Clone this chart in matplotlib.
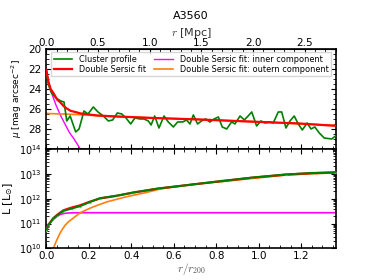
import matplotlib
matplotlib.use("Agg")
import matplotlib.pyplot as plt
from matplotlib.ticker import MultipleLocator, LogLocator

plt.rcParams['font.size'] = 7.5

r200 = 2.055  # Mpc

# surface brightness profile (top panel)
r_prof = [0.0, 0.01, 0.024, 0.045, 0.068, 0.083, 0.096, 0.112, 0.138, 0.154, 0.177, 0.196,
          0.221, 0.243, 0.268, 0.292, 0.312, 0.334, 0.355, 0.375, 0.397, 0.417, 0.441,
          0.46, 0.48, 0.493, 0.51, 0.53, 0.554, 0.574, 0.598, 0.618, 0.642, 0.66, 0.676,
          0.692, 0.712, 0.73, 0.75, 0.77, 0.79, 0.81, 0.828, 0.849, 0.872, 0.888, 0.912,
          0.932, 0.95, 0.967, 0.99, 1.01, 1.029, 1.053, 1.068, 1.092, 1.108, 1.128, 1.147,
          1.167, 1.186, 1.205, 1.228, 1.246, 1.264, 1.285, 1.308, 1.343, 1.362]
mu_prof = [22.2, 23.6, 24.4, 24.9, 25.2, 25.3, 27.2, 26.7, 28.3, 28.0, 26.2, 26.5,
           25.8, 26.3, 26.7, 27.2, 27.1, 26.4, 26.5, 26.9, 27.5, 26.9, 27.0,
           27.0, 27.2, 27.6, 26.7, 27.9, 26.7, 27.3, 27.8, 27.3, 27.3, 27.1, 27.5,
           26.6, 27.5, 27.2, 27.0, 27.3, 27.0, 26.8, 27.8, 28.0, 27.3, 27.5, 26.7,
           27.1, 26.7, 26.3, 27.7, 27.2, 27.4, 27.3, 27.4, 26.3, 26.3, 27.9, 27.2,
           26.7, 27.5, 28.1, 27.4, 28.0, 27.8, 28.4, 28.9, 29.0, 28.7]

r_fit = [0.0, 0.01, 0.02, 0.033, 0.052, 0.064, 0.083, 0.096, 0.115, 0.127, 0.162, 0.2,
         0.24, 0.3, 0.5, 0.72, 0.95, 1.19, 1.37]
mu_fit = [22.1, 23.3, 24.0, 24.4, 25.1, 25.3, 25.75, 25.95, 26.2, 26.25, 26.45, 26.55,
          26.65, 26.72, 26.9, 27.05, 27.25, 27.45, 27.7]

r_inner = [0.0, 0.01, 0.02, 0.028, 0.045, 0.068, 0.085, 0.107, 0.13, 0.154, 0.165, 0.18]
mu_inner = [22.2, 23.3, 24.1, 24.6, 25.6, 26.7, 27.4, 28.3, 29.0, 29.8, 30.2, 30.6]

r_outer = [0.0, 0.1, 0.2, 0.27, 0.4, 0.72, 1.0, 1.37]
mu_outer = [26.45, 26.52, 26.62, 26.72, 26.82, 27.05, 27.3, 27.65]

# cumulative luminosity (bottom panel)
r_lum = [0.0, 0.01, 0.033, 0.05, 0.08, 0.12, 0.159, 0.206, 0.253, 0.331, 0.41, 0.527,
         0.65, 0.82, 0.97, 1.13, 1.25, 1.36]
L_prof = [5.4e10, 8.9e10, 1.6e11, 2.1e11, 3.2e11, 4.0e11, 5.0e11, 7.4e11, 1.05e12,
          1.32e12, 1.78e12, 2.57e12, 3.4e12, 5.1e12, 7.1e12, 9.5e12, 1.08e13, 1.15e13]
L_fit = [5.4e10, 9.0e10, 1.65e11, 2.2e11, 3.4e11, 4.4e11, 5.4e11, 7.6e11, 1.02e12,
         1.3e12, 1.76e12, 2.55e12, 3.4e12, 5.0e12, 7.0e12, 9.3e12, 1.06e13, 1.13e13]

r_lin = [0.0, 0.01, 0.028, 0.049, 0.065, 0.08, 0.1, 0.13, 0.2, 0.5, 1.0, 1.37]
L_inner = [5.4e10, 8.5e10, 1.35e11, 1.9e11, 2.3e11, 2.5e11, 2.65e11, 2.7e11, 2.72e11,
           2.72e11, 2.72e11, 2.72e11]

r_lout = [0.033, 0.045, 0.056, 0.07, 0.088, 0.105, 0.127, 0.159, 0.19, 0.221, 0.284, 0.378,
          0.472, 0.535, 0.7, 0.82, 1.0, 1.13, 1.25, 1.37]
L_outer = [1.0e10, 1.8e10, 2.9e10, 5.0e10, 8.5e10, 1.2e11, 1.66e11, 2.7e11, 3.6e11,
           4.7e11, 7.4e11, 1.2e12, 1.78e12, 2.45e12, 3.9e12, 4.8e12, 6.9e12, 8.9e12,
           1.0e13, 1.1e13]

fig = plt.figure(figsize=(3.74, 2.8), dpi=100)
ax1 = fig.add_axes([0.124, 0.468, 0.774, 0.357])
ax2 = fig.add_axes([0.124, 0.113, 0.774, 0.355])

ax1.plot(r_prof, mu_prof, color='green', lw=1.2, label='Cluster profile', zorder=3)
ax1.plot(r_fit, mu_fit, color='red', lw=1.6, label='Double Sersic fit', zorder=4)
ax1.plot(r_inner, mu_inner, color='magenta', lw=1.0,
         label='Double Sersic fit: inner component', zorder=2)
ax1.plot(r_outer, mu_outer, color='#ff7f0e', lw=1.2,
         label='Double Sersic fit: outern component', zorder=2)

ax1.set_xlim(0, 1.363)
ax1.set_ylim(30, 20)
ax1.set_yticks([20, 22, 24, 26, 28])
ax1.yaxis.set_minor_locator(MultipleLocator(0.5))
ax1.xaxis.set_major_locator(MultipleLocator(0.2))
ax1.xaxis.set_minor_locator(MultipleLocator(0.05))
ax1.tick_params(which='both', direction='in', top=False, right=True, labelbottom=False)
ax1.set_ylabel(r'$\mu$ [mag arcsec$^{-2}$]', fontsize=6.5, labelpad=3)
ax1.legend(loc='upper center', ncol=2, fontsize=5.9, handlelength=2.3,
           columnspacing=1.0, borderpad=0.3, labelspacing=0.15, fancybox=False,
           framealpha=0.8, borderaxespad=0.4)

top = ax1.secondary_xaxis('top', functions=(lambda x: x * r200, lambda x: x / r200))
top.xaxis.set_major_locator(MultipleLocator(0.5))
top.xaxis.set_minor_locator(MultipleLocator(0.1))
top.tick_params(which='both', direction='in', pad=1)
top.set_xlabel(r'$r$ [Mpc]', fontsize=8, color='#333333', labelpad=1.5,
               math_fontfamily='cm')
ax1.set_title('A3560', fontsize=8, pad=5)

ax2.plot(r_lin, L_inner, color='magenta', lw=1.2, zorder=2)
ax2.plot(r_lout, L_outer, color='#ff7f0e', lw=1.2, zorder=2)
ax2.plot(r_lum, L_fit, color='red', lw=1.6, zorder=3)
ax2.errorbar(r_lum, L_prof, yerr=[v * 0.06 for v in L_prof], color='green', lw=1.4,
             ecolor='#7fbf7f', elinewidth=0.6, capsize=1, zorder=4)
ax2.set_yscale('log')
ax2.set_xlim(0, 1.363)
ax2.set_ylim(1e10, 1e14)
ax2.yaxis.set_major_locator(LogLocator(base=10, numticks=10))
ax2.xaxis.set_major_locator(MultipleLocator(0.2))
ax2.xaxis.set_minor_locator(MultipleLocator(0.05))
ax2.tick_params(which='both', direction='in', top=True, right=True)
ax2.tick_params(axis='x', pad=2)
ax2.tick_params(axis='y', labelsize=7)
ax2.set_ylabel(r'L [L$_{\odot}$]', fontsize=8, labelpad=3)
ax2.set_xlabel(r'$r/r_{200}$', fontsize=8, color='#555555', labelpad=0,
               math_fontfamily='cm')

for ax in (ax1, ax2):
    for s in ax.spines.values():
        s.set_linewidth(1.2)

fig.savefig('out.png', dpi=100)
